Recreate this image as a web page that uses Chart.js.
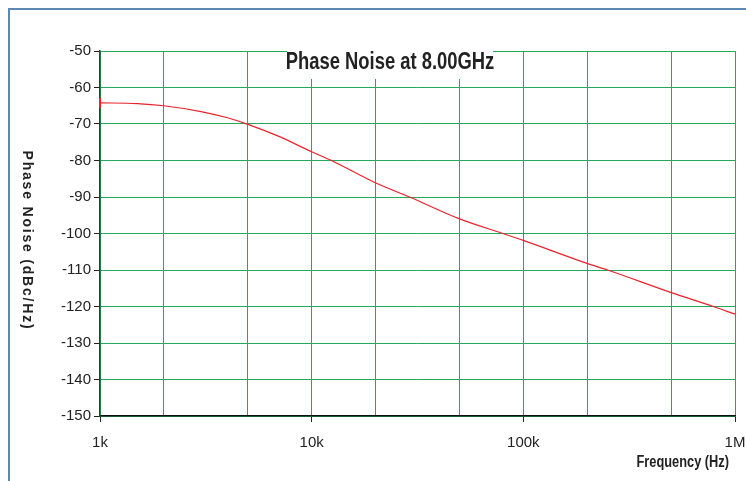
<!DOCTYPE html>
<html>
<head>
<meta charset="utf-8">
<script src="https://cdn.jsdelivr.net/npm/chart.js@4/dist/chart.umd.min.js"></script>
<style>
html,body{margin:0;padding:0;background:#fff;}
#wrap{position:relative;width:746px;height:481px;}
</style>
</head>
<body>
<div id="wrap"><canvas id="c" width="746" height="481"></canvas></div>
<script>
// ---- data ----
const freqHz = [1000, 1500, 2000, 3000, 4000, 5000, 7000, 10000, 12400, 20000, 29000, 50000, 80000, 100000, 200000, 250000, 500000, 790000, 1000000];
const phaseNoise = [-64.2, -64.4, -65.0, -66.6, -68.3, -70.1, -73.4, -77.6, -80.0, -86.1, -90.0, -96.0, -100.0, -101.9, -108.2, -110.0, -116.2, -120.0, -122.1];
const xGridValues = [1000, 2000, 5000, 10000, 20000, 50000, 100000, 200000, 500000, 1000000];
const xTickLabels = {1000: '1k', 10000: '10k', 100000: '100k', 1000000: '1M'};
const yTickValues = [-150, -140, -130, -120, -110, -100, -90, -80, -70, -60, -50];
const chartTitle = 'Phase Noise at 8.00GHz';
const yTitle = 'Phase Noise (dBc/Hz)';
const xTitle = 'Frequency (Hz)';

const SANS = '"Liberation Sans", Arial, sans-serif';
const GRID = '#26a85c';

const points = freqHz.map((f, i) => ({x: f, y: phaseNoise[i]}));

function narrowText(ctx, text, x, y, font, align, sx) {
  ctx.save();
  ctx.font = font;
  ctx.textAlign = align;
  ctx.textBaseline = 'middle';
  ctx.translate(x, y);
  ctx.scale(sx, 1);
  ctx.fillText(text, 0, 0);
  ctx.restore();
}

const decorPlugin = {
  id: 'decor',
  beforeDraw(chart) {
    const ctx = chart.ctx;
    ctx.save();
    ctx.fillStyle = '#fff';
    ctx.fillRect(0, 0, chart.width, chart.height);
    ctx.strokeStyle = '#5b89b3';
    ctx.lineWidth = 2;
    ctx.beginPath();
    ctx.moveTo(9, chart.height);
    ctx.lineTo(9, 9);
    ctx.lineTo(chart.width, 9);
    ctx.stroke();
    ctx.restore();
  },
  afterDraw(chart) {
    const ctx = chart.ctx;
    const ca = chart.chartArea;
    ctx.save();
    // title box inside the plot
    ctx.fillStyle = '#fff';
    ctx.fillRect(287, 47, 206, 32);
    ctx.fillStyle = '#222';
    narrowText(ctx, chartTitle, 390, 63, 'bold 23px ' + SANS, 'center', 0.8);
    // x axis title
    narrowText(ctx, xTitle, 729, 463, 'bold 16px ' + SANS, 'right', 0.8);
    // rotated y title (reads top to bottom)
    ctx.translate(27, (ca.top + ca.bottom) / 2 + 7);
    ctx.rotate(Math.PI / 2);
    ctx.font = 'bold 14px ' + SANS;
    ctx.textAlign = 'center';
    ctx.textBaseline = 'middle';
    try { ctx.letterSpacing = '1.8px'; } catch (e) {}
    ctx.fillText(yTitle, 0, 0);
    ctx.restore();
  }
};

new Chart(document.getElementById('c'), {
  type: 'line',
  data: {
    datasets: [{
      data: points,
      borderColor: '#e8232b',
      borderWidth: 1.2,
      backgroundColor: '#e8232b',
      cubicInterpolationMode: 'monotone',
      pointStyle: 'line',
      pointRotation: 90,
      pointBorderColor: '#e8232b',
      pointBorderWidth: 2,
      pointRadius: ctx => ctx.dataIndex === 0 ? 5 : 0,
      fill: false,
      clip: false
    }]
  },
  plugins: [decorPlugin],
  options: {
    responsive: false,
    animation: false,
    events: [],
    layout: {padding: {top: 51, right: 11, left: 0, bottom: 0}},
    plugins: {legend: {display: false}, tooltip: {enabled: false}, title: {display: false}},
    scales: {
      x: {
        type: 'logarithmic',
        min: 1000,
        max: 1000000,
        afterFit(s) { s.height = 65; s.paddingLeft = 0; s.paddingRight = 0; },
        afterBuildTicks(s) { s.ticks = xGridValues.map(v => ({value: v})); },
        ticks: {
          autoSkip: false,
          maxRotation: 0,
          padding: 12,
          color: '#222',
          font: {family: SANS, size: 15},
          callback: v => xTickLabels[v] || ''
        },
        grid: {
          color: GRID,
          borderDash: [2, 1],
          lineWidth: 1,
          tickLength: 6,
          tickBorderDash: [],
          tickColor: ctx => (ctx.tick && xTickLabels[ctx.tick.value]) ? '#222' : 'rgba(0,0,0,0)'
        },
        border: {display: true, color: '#111', width: 1.5},
        title: {display: false}
      },
      y: {
        min: -150,
        max: -50,
        afterFit(s) { s.width = 100; s.paddingTop = 0; s.paddingBottom = 0; },
        afterBuildTicks(s) { s.ticks = yTickValues.map(v => ({value: v})); },
        ticks: {
          padding: 3,
          color: '#222',
          font: {family: SANS, size: 15}
        },
        grid: {
          color: GRID,
          borderDash: [2, 1],
          lineWidth: 1,
          tickLength: 6,
          tickBorderDash: [],
          tickColor: '#222'
        },
        border: {display: true, color: '#1f4a2c', width: 1.5}
      }
    }
  }
});
</script>
</body>
</html>
